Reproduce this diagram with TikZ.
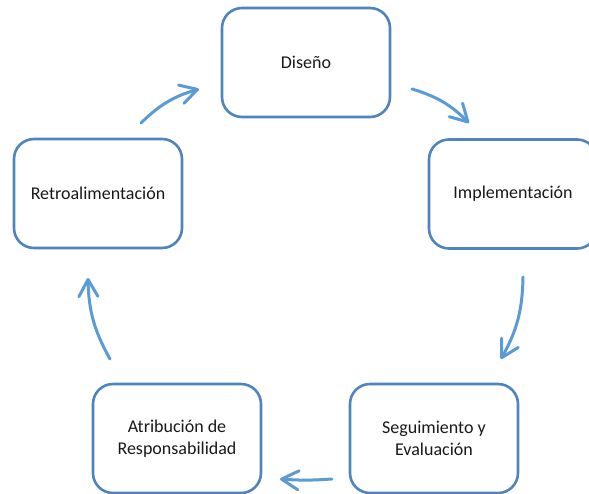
\documentclass[tikz,border=0pt]{standalone}
\usepackage{fontspec}
\setmainfont{Carlito}
\usetikzlibrary{arrows.meta}
\definecolor{boxblue}{RGB}{80,132,190}
\definecolor{arrblue}{RGB}{91,155,213}
\tikzset{
  stagebox/.style={draw=boxblue, line width=2.6pt, rounded corners=20pt, fill=white,
    minimum width=168pt, minimum height=109pt, inner sep=0pt, align=center,
    font=\fontsize{18}{22}\selectfont, text=black!90},
  cyclearrow/.style={draw=arrblue, line width=3pt, line cap=round,
    -{Straight Barb[length=17pt,width=19pt,line width=3pt,line cap=round,line join=round]}}
}
\begin{document}
\begin{tikzpicture}[x=1pt,y=-1pt]
\clip (0,0) rectangle (589,493);
\fill[white] (0,0) rectangle (589,493);
\node[stagebox] (dis) at (306,62.5) {Diseño};
\node[stagebox] (imp) at (513,194) {Implementación};
\node[stagebox] (seg) at (434,438.5) {Seguimiento y\\Evaluación};
\node[stagebox] (atr) at (177,438.5) {Atribución de\\Responsabilidad};
\node[stagebox] (ret) at (98,193.5) {Retroalimentación};
\coordinate (a1s) at (141,123); \coordinate (a1e) at (199,89);
\coordinate (a2s) at (412,89);  \coordinate (a2e) at (469,123);
\coordinate (a3s) at (523,277); \coordinate (a3e) at (501,359);
\coordinate (a4s) at (332,479); \coordinate (a4e) at (280,479);
\coordinate (a5s) at (110,359); \coordinate (a5e) at (88,278);
\draw[cyclearrow] (a1s) to[bend left=14] (a1e);
\draw[cyclearrow] (a2s) to[bend left=14] (a2e);
\draw[cyclearrow] (a3s) to[bend left=14] (a3e);
\draw[cyclearrow] (a4s) to[bend left=4] (a4e);
\draw[cyclearrow] (a5s) to[bend left=14] (a5e);
\end{tikzpicture}
\end{document}
